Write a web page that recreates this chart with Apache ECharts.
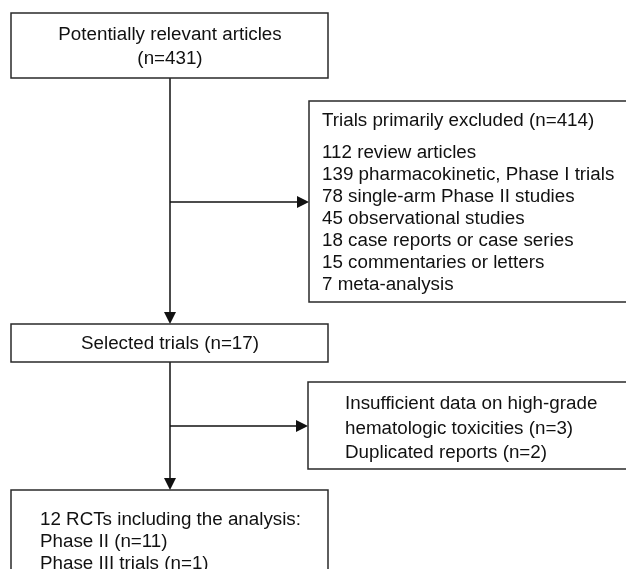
<!DOCTYPE html>
<html>
<head>
<meta charset="utf-8">
<script src="https://cdn.jsdelivr.net/npm/echarts@6/dist/echarts.min.js"></script>
<style>
  html, body { margin: 0; padding: 0; background: #fff; }
  #chart { width: 626px; height: 569px; }
</style>
</head>
<body>
<div id="chart"></div>
<script>
// ── Flow data (units of the hidden x/y axes) ────────────────────────────────

const boxLeft   = [11, 309, 11, 308, 11];
const boxTop    = [13, 101, 324, 382, 490];
const boxRight  = [328, 640, 328, 640, 328];
const boxBottom = [78, 302, 362, 469, 600];

const blockLines = [
  ['Potentially relevant articles', '(n=431)'],
  ['Trials primarily excluded (n=414)'],
  ['112 review articles', '139 pharmacokinetic, Phase I trials', '78 single-arm Phase II studies',
   '45 observational studies', '18 case reports or case series', '15 commentaries or letters',
   '7 meta-analysis'],
  ['Selected trials (n=17)'],
  ['Insufficient data on high-grade', 'hematologic toxicities (n=3)', 'Duplicated reports (n=2)'],
  ['12 RCTs including the analysis:', 'Phase II (n=11)', 'Phase III trials (n=1)'],
];
const blockX     = [170, 322, 322, 170, 345, 40];
const blockY     = [35, 121, 153, 344, 404, 520];   // centre of first line
const blockAlign = ['center', 'left', 'left', 'center', 'left', 'left'];
const blockStep  = [24, 22, 21.9, 22, 24.5, 22];

// connectors: start -> end (arrow at end)
const edgeX1 = [170, 170, 170, 170];
const edgeY1 = [78, 202, 362, 426];
const edgeX2 = [170, 309, 170, 308];
const edgeY2 = [324, 202, 490, 426];

// ── Chart ───────────────────────────────────────────────────────────────────

const chart = echarts.init(document.getElementById('chart'), null, { renderer: 'canvas' });

const INK = '#111';
const FONT = '"Liberation Sans", Arial, sans-serif';

function renderBox(params, api) {
  const p0 = api.coord([api.value(0), api.value(1)]);
  const p1 = api.coord([api.value(2), api.value(3)]);
  return {
    type: 'rect',
    shape: { x: p0[0], y: p0[1], width: p1[0] - p0[0], height: p1[1] - p0[1] },
    style: { fill: '#fff', stroke: '#2a2a2a', lineWidth: 1.5 },
  };
}

function renderText(params, api) {
  const i = params.dataIndex;
  const p = api.coord([api.value(0), api.value(1)]);
  const step = blockStep[i];
  return {
    type: 'text',
    x: p[0],
    y: p[1] - step / 2,
    style: {
      text: blockLines[i].join('\n'),
      fill: '#111',
      font: '18.8px ' + FONT,
      lineHeight: step,
      align: blockAlign[i],
      verticalAlign: 'top',
    },
  };
}

function renderEdge(params, api) {
  const a = api.coord([api.value(0), api.value(1)]);
  const b = api.coord([api.value(2), api.value(3)]);
  const dx = b[0] - a[0], dy = b[1] - a[1];
  const len = Math.sqrt(dx * dx + dy * dy);
  const ux = dx / len, uy = dy / len;
  const head = 12, half = 6;
  const base = [b[0] - ux * head, b[1] - uy * head];
  return {
    type: 'group',
    children: [
      {
        type: 'line',
        shape: { x1: a[0], y1: a[1], x2: base[0], y2: base[1] },
        style: { stroke: INK, lineWidth: 1.5 },
      },
      {
        type: 'polygon',
        shape: { points: [b, [base[0] - uy * half, base[1] + ux * half], [base[0] + uy * half, base[1] - ux * half]] },
        style: { fill: INK },
      },
    ],
  };
}

chart.setOption({
  backgroundColor: '#fff',
  animation: false,
  grid: { left: 0, right: 0, top: 0, bottom: 0 },
  xAxis: { type: 'value', min: 0, max: 626, show: false },
  yAxis: { type: 'value', min: 0, max: 569, inverse: true, show: false },
  series: [
    {
      type: 'custom',
      clip: true,
      renderItem: renderEdge,
      data: edgeX1.map((x, i) => [x, edgeY1[i], edgeX2[i], edgeY2[i]]),
      z: 1,
    },
    {
      type: 'custom',
      clip: true,
      renderItem: renderBox,
      data: boxLeft.map((x, i) => [x, boxTop[i], boxRight[i], boxBottom[i]]),
      z: 2,
    },
    {
      type: 'custom',
      renderItem: renderText,
      data: blockX.map((x, i) => [x, blockY[i]]),
      z: 3,
    },
  ],
});
</script>
</body>
</html>
